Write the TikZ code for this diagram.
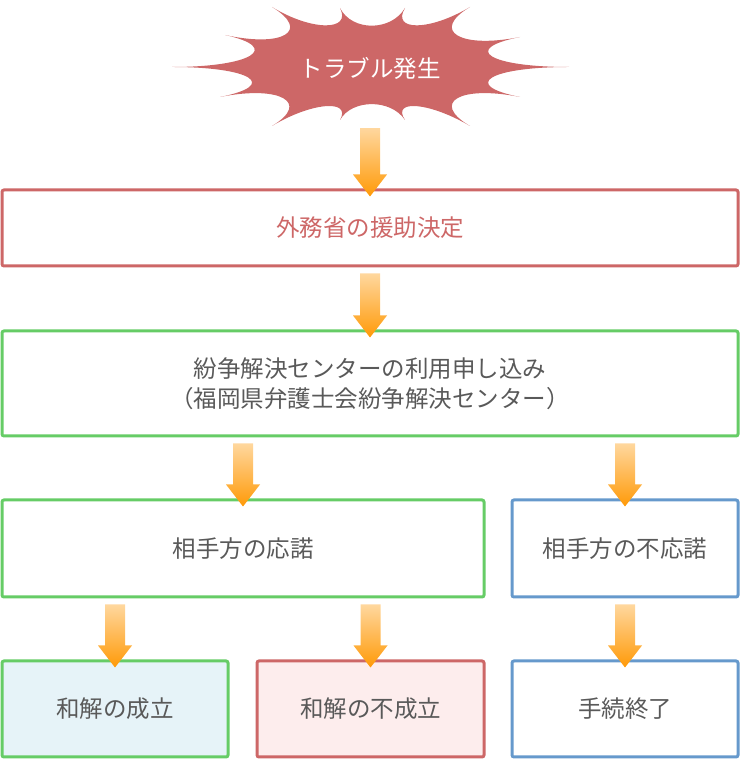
\documentclass[tikz,border=0pt]{standalone}
\usepackage{fontspec}
\setmainfont{Noto Sans CJK JP}
\usetikzlibrary{calc}

\definecolor{boxred}{HTML}{CD6767}
\definecolor{boxgreen}{HTML}{66CC66}
\definecolor{boxblue}{HTML}{6699CC}
\definecolor{textgray}{HTML}{595959}
\definecolor{paleblue}{HTML}{E6F3F8}
\definecolor{palepink}{HTML}{FDEDED}
\definecolor{arrowtop}{HTML}{FFD79E}
\definecolor{arrowbot}{HTML}{FF9A08}

% block arrow from the bottom of #1 to the top of #2
\newcommand{\flowarrow}[2]{%
  \shade[arrowfill] ($(#1.south -| #2.north)+(-10,-6)$) -- ($(#2.north)+(-10,14)$)
    -- ($(#2.north)+(-17,14)$) -- ($(#2.north)+(0,-8)$) -- ($(#2.north)+(17,14)$)
    -- ($(#2.north)+(10,14)$) -- ($(#1.south -| #2.north)+(10,-6)$) -- cycle;}

\begin{document}
\begin{tikzpicture}[x=1pt,y=1pt,
  every node/.style={font=\fontsize{23.5}{30}\selectfont, text=textgray, align=center},
  stepbox/.style={draw, line width=3pt, rounded corners=2pt, inner sep=0pt},
  redbox/.style={stepbox, draw=boxred},
  greenbox/.style={stepbox, draw=boxgreen},
  bluebox/.style={stepbox, draw=boxblue},
  arrowfill/.style={top color=arrowtop, bottom color=arrowbot}]
	\useasboundingbox (0,0) rectangle (740,760);
	% trouble burst: spike tips and centre
	\coordinate (c) at (370,693);
	\coordinate (s1) at (272,753);
	\coordinate (s2) at (340,752);
	\coordinate (s3) at (405,752);
	\coordinate (s4) at (470,753);
	\coordinate (s5) at (520,723);
	\coordinate (s6) at (569,693);
	\coordinate (s7) at (520,663);
	\coordinate (s8) at (470,634);
	\coordinate (s9) at (405,640);
	\coordinate (s10) at (340,640);
	\coordinate (s11) at (272,634);
	\coordinate (s12) at (220,663);
	\coordinate (s13) at (172,693);
	\coordinate (s14) at (225,725);
	\fill[boxred] (s1) \foreach \i/\j in {1/2,2/3,3/4,4/5,5/6,6/7,7/8,8/9,9/10,10/11,11/12,12/13,13/14,14/1}
	  { .. controls ($(s\i)!0.4!(c)$) and ($(s\j)!0.4!(c)$) .. (s\j) } -- cycle;
	\node[text=white, minimum width=398, minimum height=108] (burst) at (370,692) {トラブル発生};
	% boxes
	\node[redbox, text=boxred, minimum width=736, minimum height=76] (aid) at (370,532) {外務省の援助決定};
	\node[greenbox, minimum width=736, minimum height=105] (apply) at (370,376.5)
	  {紛争解決センターの利用申し込み\\（福岡県弁護士会紛争解決センター）};
	\node[greenbox, minimum width=482, minimum height=97] (accept) at (243,211.5) {相手方の応諾};
	\node[bluebox, minimum width=226, minimum height=97] (refuse) at (625,211.5) {相手方の不応諾};
	\node[greenbox, fill=paleblue, minimum width=226, minimum height=96] (settle) at (115,51) {和解の成立};
	\node[redbox, fill=palepink, minimum width=227, minimum height=96] (fail) at (370.5,51) {和解の不成立};
	\node[bluebox, minimum width=226, minimum height=96] (close) at (625,51) {手続終了};
	% arrows
	\flowarrow{burst}{aid}
	\flowarrow{aid}{apply}
	\flowarrow{apply}{accept}
	\flowarrow{apply}{refuse}
	\flowarrow{accept}{settle}
	\flowarrow{accept}{fail}
	\flowarrow{refuse}{close}
\end{tikzpicture}
\end{document}
